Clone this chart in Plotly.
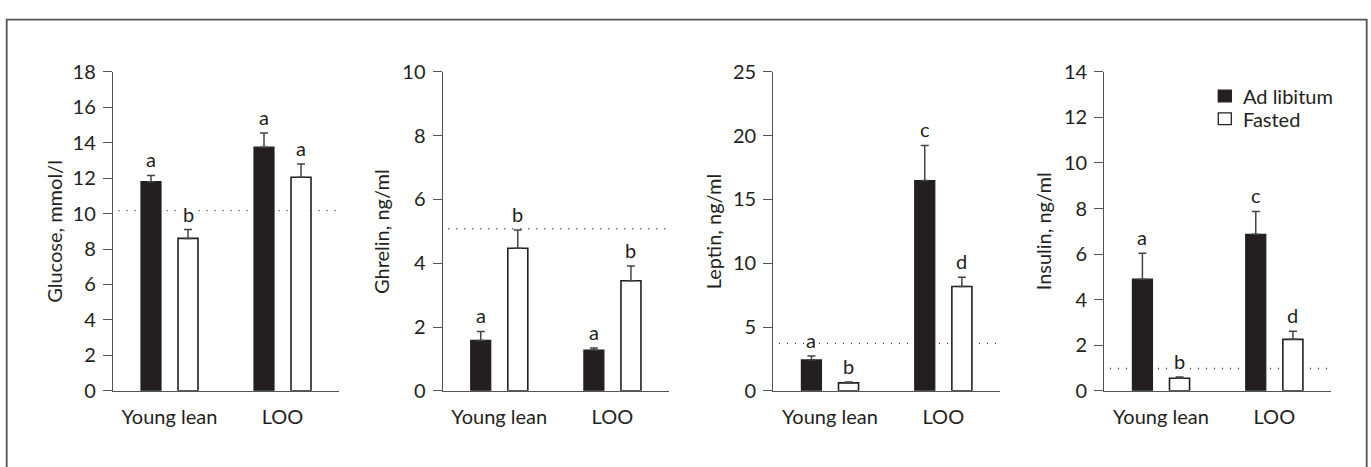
import plotly.graph_objects as go

# ---------------- data ----------------
groups = ["Young lean", "LOO"]
series_names = ["Ad libitum", "Fasted"]

panel_titles = ["Glucose, mmol/l", "Ghrelin, ng/ml", "Leptin, ng/ml", "Insulin, ng/ml"]
y_max = [18, 10, 25, 14]
y_dtick = [2, 2, 5, 2]

glucose_adlib = [11.8, 13.75]
glucose_adlib_sem = [0.35, 0.8]
glucose_fasted = [8.6, 12.05]
glucose_fasted_sem = [0.5, 0.75]
glucose_ref = 10.17

ghrelin_adlib = [1.58, 1.28]
ghrelin_adlib_sem = [0.28, 0.06]
ghrelin_fasted = [4.47, 3.45]
ghrelin_fasted_sem = [0.57, 0.46]
ghrelin_ref = 5.08

leptin_adlib = [2.42, 16.48]
leptin_adlib_sem = [0.3, 2.75]
leptin_fasted = [0.62, 8.18]
leptin_fasted_sem = [0.07, 0.72]
leptin_ref = 3.72

insulin_adlib = [4.9, 6.87]
insulin_adlib_sem = [1.14, 1.0]
insulin_fasted = [0.55, 2.26]
insulin_fasted_sem = [0.06, 0.35]
insulin_ref = 0.98

glucose_letters = (["a", "a"], ["b", "a"])
ghrelin_letters = (["a", "a"], ["b", "b"])
leptin_letters = (["a", "c"], ["b", "d"])
insulin_letters = (["a", "c"], ["b", "d"])

panels = [
    (glucose_adlib, glucose_adlib_sem, glucose_fasted, glucose_fasted_sem, glucose_ref, glucose_letters),
    (ghrelin_adlib, ghrelin_adlib_sem, ghrelin_fasted, ghrelin_fasted_sem, ghrelin_ref, ghrelin_letters),
    (leptin_adlib, leptin_adlib_sem, leptin_fasted, leptin_fasted_sem, leptin_ref, leptin_letters),
    (insulin_adlib, insulin_adlib_sem, insulin_fasted, insulin_fasted_sem, insulin_ref, insulin_letters),
]

# ---------------- style / layout ----------------
W, H = 1371, 467
FONT = "Lato"
FS = 20
INK = "#231f20"
AXC = "#555555"
FILLS = [INK, "white"]

x_px = [(113, 339), (442.7, 669), (773.3, 1000), (1104.3, 1331)]
y_px = (62, 398.3)
title_x_px = [54.5, 381.7, 713, 1043]
ydom = [1 - y_px[1] / H, 1 - y_px[0] / H]

fig = go.Figure()
shapes = []
annotations = []
BAR_SHIFT = 18.5

for i, (ad, ad_sem, fa, fa_sem, ref, letters) in enumerate(panels):
    xa = "x" if i == 0 else f"x{i+1}"
    ya = "y" if i == 0 else f"y{i+1}"
    fig.add_trace(go.Bar(
        x=groups, y=ad, name=series_names[0], xaxis=xa, yaxis=ya,
        marker=dict(color=FILLS[0], line=dict(color=INK, width=1.2)),
        error_y=dict(type="data", array=ad_sem, arrayminus=[0] * len(ad), symmetric=False,
                     color="#444444", thickness=1.5, width=4),
        showlegend=False, legendgroup="ad", offsetgroup="ad",
    ))
    fig.add_trace(go.Bar(
        x=groups, y=fa, name=series_names[1], xaxis=xa, yaxis=ya,
        marker=dict(color=FILLS[1], line=dict(color=INK, width=1.6)),
        error_y=dict(type="data", array=fa_sem, arrayminus=[0] * len(fa), symmetric=False,
                     color="#444444", thickness=1.5, width=4),
        showlegend=False, legendgroup="fa", offsetgroup="fa",
    ))
    # reference dotted line
    shapes.append(dict(type="line", xref=f"{xa} domain", yref=ya, x0=0.025, x1=0.99,
                       y0=ref, y1=ref, layer="below",
                       line=dict(color="#333333", width=1.4, dash="1px,7px")))
    # significance letters
    for s, (vals, sems, shift) in enumerate([(ad, ad_sem, -BAR_SHIFT), (fa, fa_sem, BAR_SHIFT)]):
        for g, grp in enumerate(groups):
            annotations.append(dict(
                x=grp, y=vals[g] + sems[g], xref=xa, yref=ya, text=letters[s][g],
                showarrow=False, xanchor="center", yanchor="bottom", xshift=shift, yshift=3,
                font=dict(family=FONT, size=FS, color=INK), bgcolor="white", borderpad=0,
            ))
    # axis title
    annotations.append(dict(
        x=title_x_px[i] / W, y=1 - (sum(y_px) / 2) / H, xref="paper", yref="paper",
        text=panel_titles[i], textangle=-90, showarrow=False,
        xanchor="center", yanchor="middle", font=dict(family=FONT, size=FS, color=INK),
    ))
    xkey = "xaxis" if i == 0 else f"xaxis{i+1}"
    ykey = "yaxis" if i == 0 else f"yaxis{i+1}"
    fig.update_layout(**{
        xkey: dict(domain=[x_px[i][0] / W, x_px[i][1] / W], anchor=ya, type="category",
                   range=[-0.5, 1.5], showline=True, linecolor=AXC, linewidth=1.4,
                   ticks="", showgrid=False, zeroline=False, fixedrange=True,
                   tickfont=dict(family=FONT, size=FS, color=INK), ticklabelstandoff=8),
        ykey: dict(domain=ydom, anchor=xa, range=[0, y_max[i]], dtick=y_dtick[i], tick0=0,
                   showline=True, linecolor=AXC, linewidth=1.4, ticks="outside", ticklen=9,
                   tickwidth=1.4, tickcolor=AXC, showgrid=False, zeroline=False,
                   tickfont=dict(family=FONT, size=FS, color=INK), ticklabelstandoff=3),
    })

# legend (drawn manually for compact row spacing)
leg_sq_x = (1218.3, 1231.3)
leg_rows_y = [87.5, 111.5]
for k, name in enumerate(series_names):
    yc = leg_rows_y[k]
    shapes.append(dict(type="rect", xref="paper", yref="paper",
                       x0=leg_sq_x[0] / W, x1=leg_sq_x[1] / W,
                       y0=1 - (yc + 6.2) / H, y1=1 - (yc - 6.2) / H,
                       fillcolor=FILLS[k], line=dict(color=INK, width=1.3)))
    annotations.append(dict(x=1241 / W, y=1 - (yc + 0.5) / H, xref="paper", yref="paper",
                            text=name, showarrow=False, xanchor="left", yanchor="middle",
                            font=dict(family=FONT, size=FS, color=INK)))

# outer frame (bottom edge cropped)
shapes.append(dict(type="rect", xref="paper", yref="paper", x0=6.7 / W, x1=1366.7 / W,
                   y0=-0.05, y1=1 - 7 / H, line=dict(color="#555555", width=1.8), layer="above"))

fig.update_layout(
    width=W, height=H, margin=dict(l=0, r=0, t=0, b=0),
    paper_bgcolor="white", plot_bgcolor="white",
    barmode="group", bargap=0.345, bargroupgap=0.46,
    shapes=shapes, annotations=annotations, showlegend=False,
    font=dict(family=FONT, size=FS, color=INK),
)

fig.write_html("out.html")
